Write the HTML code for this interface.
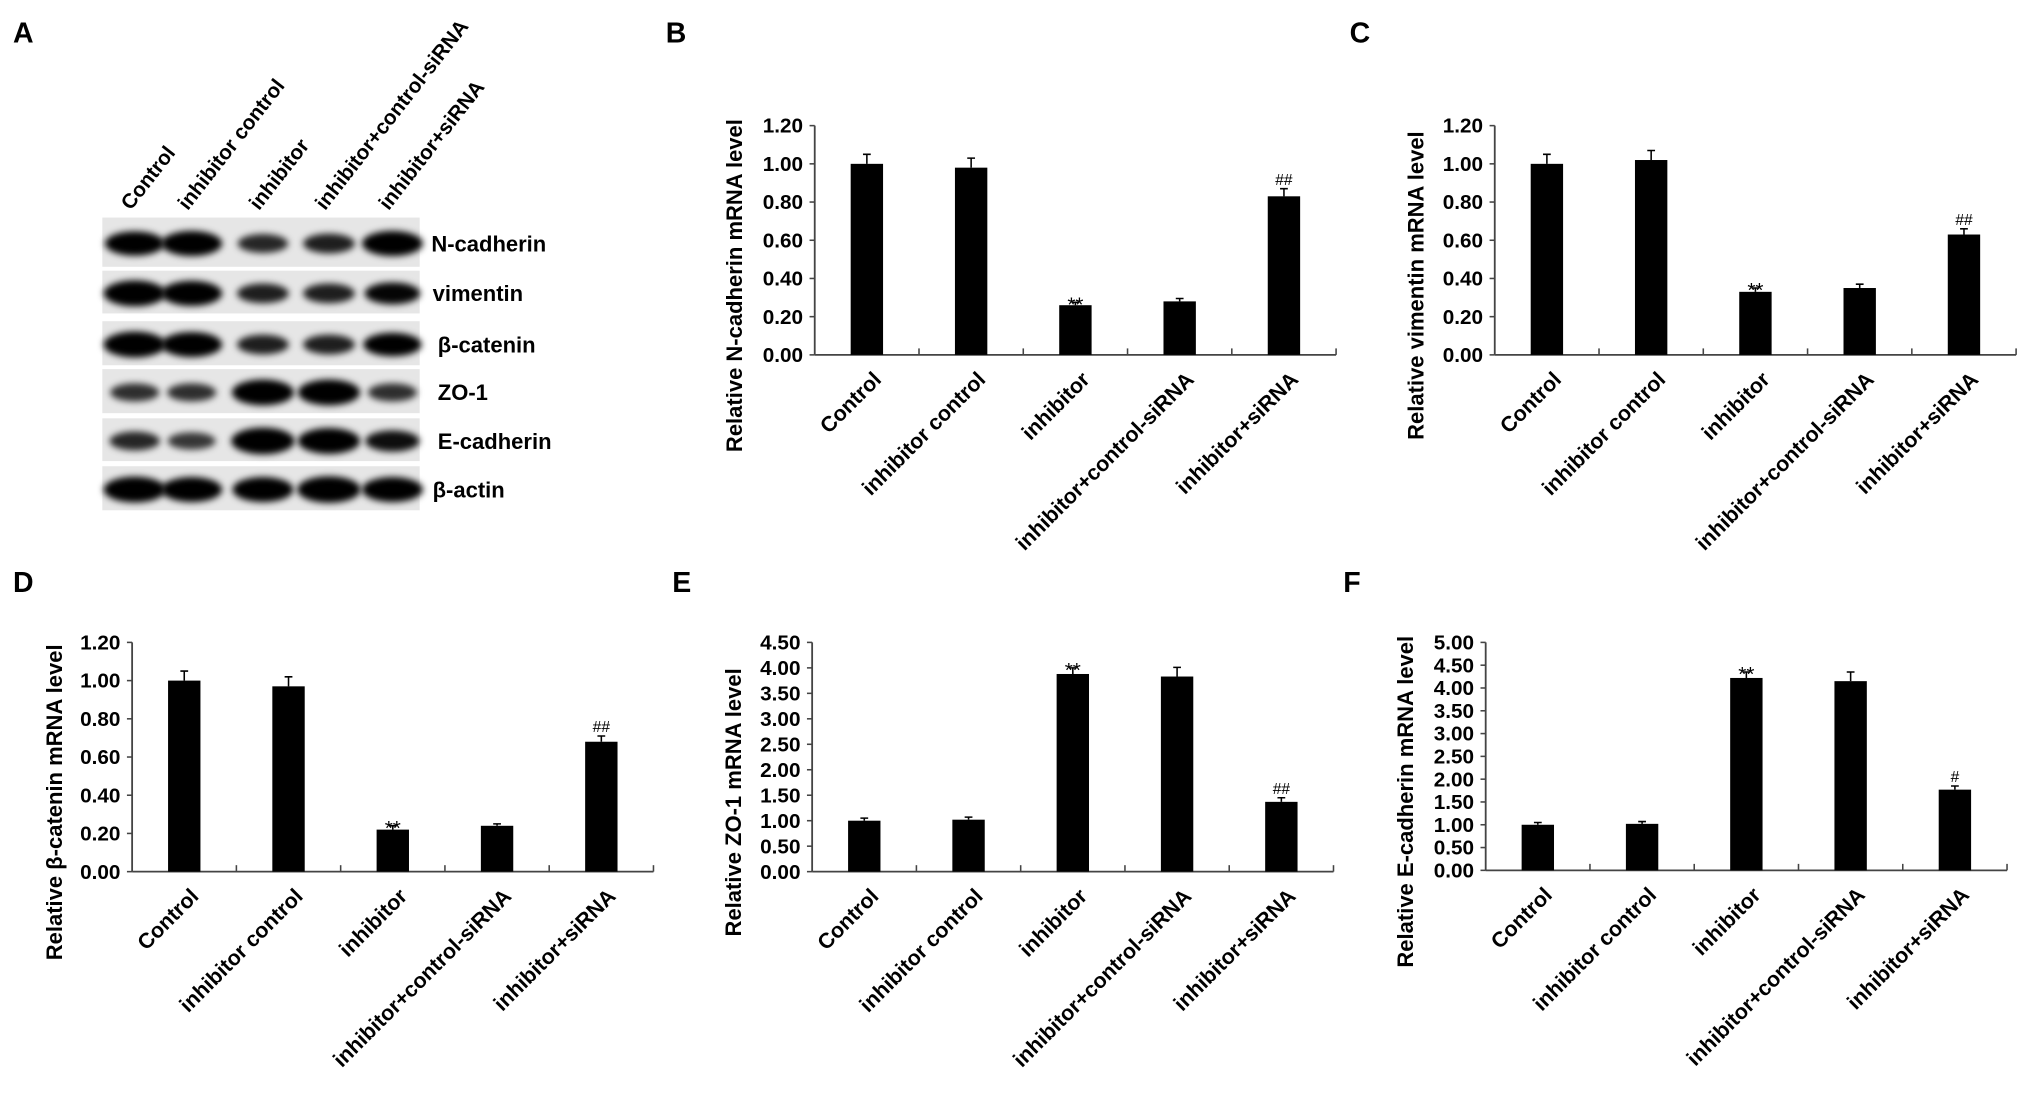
<!DOCTYPE html>
<html><head><meta charset="utf-8"><style>
html,body{margin:0;padding:0;background:#fff;}
svg{display:block;font-family:"Liberation Sans",Arial,sans-serif;font-weight:bold;}
</style></head>
<body>
<svg id="fig" width="2031" height="1097" viewBox="0 0 1568 847" preserveAspectRatio="none">
<defs><filter id="blur" x="-50%" y="-50%" width="200%" height="200%"><feGaussianBlur stdDeviation="2.6"/></filter></defs>
<g id="blot"></g>
<g id="charts"></g>
</svg>
<script>
const NS="http://www.w3.org/2000/svg";
const svg=document.getElementById('fig');
function mk(tag,attrs,parent,text){const e=document.createElementNS(NS,tag);for(const k in attrs)e.setAttribute(k,attrs[k]);if(text!==undefined)e.textContent=text;(parent||svg).appendChild(e);return e;}

const categories=["Control","inhibitor control","inhibitor","inhibitor+control-siRNA","inhibitor+siRNA"];
// Panel B
const valuesB=[1.00,0.98,0.26,0.28,0.83];
const errB=[0.05,0.05,0.015,0.015,0.04];
const sigB=["","","**","","##"];
const ticksB=["0.00","0.20","0.40","0.60","0.80","1.00","1.20"];
// Panel C
const valuesC=[1.00,1.02,0.33,0.35,0.63];
const errC=[0.05,0.05,0.02,0.02,0.03];
const sigC=["","","**","","##"];
const ticksC=["0.00","0.20","0.40","0.60","0.80","1.00","1.20"];
// Panel D
const valuesD=[1.00,0.97,0.22,0.24,0.68];
const errD=[0.05,0.05,0.02,0.01,0.03];
const sigD=["","","**","","##"];
const ticksD=["0.00","0.20","0.40","0.60","0.80","1.00","1.20"];
// Panel E
const valuesE=[1.00,1.02,3.88,3.83,1.37];
const errE=[0.05,0.05,0.12,0.18,0.08];
const sigE=["","","**","","##"];
const ticksE=["0.00","0.50","1.00","1.50","2.00","2.50","3.00","3.50","4.00","4.50"];
// Panel F
const valuesF=[1.00,1.02,4.22,4.15,1.77];
const errF=[0.05,0.05,0.13,0.2,0.08];
const sigF=["","","**","","#"];
const ticksF=["0.00","0.50","1.00","1.50","2.00","2.50","3.00","3.50","4.00","4.50","5.00"];
// Western blot intensities
const blotRows=["N-cadherin","vimentin","β-catenin","ZO-1","E-cadherin","β-actin"];
const bandN=[0.9,0.95,0.55,0.6,0.95];
const bandVim=[1.0,0.95,0.6,0.6,0.75];
const bandCat=[1.0,0.95,0.6,0.6,0.85];
const bandZO=[0.5,0.5,1.0,1.0,0.5];
const bandE=[0.55,0.45,1.05,1.0,0.7];
const bandAct=[1.0,0.95,0.95,1.05,0.95];

function panelLabel(t,x,y){const e=mk('text',{x:x,y:y,'font-size':22},svg,t);

}
panelLabel('A',10,33);panelLabel('B',514,33);panelLabel('C',1042,33);
panelLabel('D',10,457);panelLabel('E',519,457);panelLabel('F',1037,457);

function chart(id,ax,top,bottom,ticks,vals,errs,sigs,title,titleX){
  const g=mk('g',{},svg);
  
  
  const maxV=parseFloat(ticks[ticks.length-1]);
  const y=v=>bottom-(v/maxV)*(bottom-top);
  const cw=80.5;
  const x=i=>ax+cw*(i+0.5);
  const ya=mk('line',{x1:ax,y1:top,x2:ax,y2:bottom,stroke:'#444','stroke-width':1.4},g);
  
  const xa=mk('line',{x1:ax,y1:bottom,x2:ax+cw*categories.length,y2:bottom,stroke:'#444','stroke-width':1.4},g);
  
  ticks.forEach(t=>{const v=parseFloat(t);
    mk('line',{x1:ax-4,y1:y(v),x2:ax,y2:y(v),stroke:'#444','stroke-width':1.2},g);
    const tl=mk('text',{x:ax-9,y:y(v)+5.5,'font-size':16,'text-anchor':'end'},g,t);
    
  });
  for(let i=1;i<=categories.length;i++){mk('line',{x1:ax+cw*i,y1:bottom,x2:ax+cw*i,y2:bottom-5,stroke:'#444','stroke-width':1.2},g);}
  const bw=25;
  vals.forEach((v,i)=>{
    const b=mk('rect',{x:x(i)-bw/2,y:y(v),width:bw,height:bottom-y(v),fill:'#000'},g);
    
    const et=y(v+errs[i]);
    const eb=mk('path',{d:`M${x(i)} ${y(v)}V${et}M${x(i)-3} ${et}H${x(i)+3}`,stroke:'#000','stroke-width':1.2,fill:'none'},g);
    
    if(sigs[i]){const s=mk('text',{x:x(i),y:sigs[i]=='**'?et+7:et-3,'font-size':sigs[i]=='**'?16:12,'text-anchor':'middle','font-weight':'normal'},g,sigs[i]);
      }
    const lx=x(i)+12, ly=bottom+20;
    const cl=mk('text',{x:lx,y:ly,'font-size':16.5,'text-anchor':'end',transform:`rotate(-45 ${lx} ${ly})`},g,categories[i]);
    
  });
  const cy=(top+bottom)/2+35;
  const tt=mk('text',{x:titleX,y:cy,'font-size':17,'text-anchor':'middle',transform:`rotate(-90 ${titleX} ${cy})`},g,title);
  
}
chart('b',629,97,274,ticksB,valuesB,errB,sigB,'Relative N-cadherin mRNA level',573);
chart('c',1154,97,274,ticksC,valuesC,errC,sigC,'Relative vimentin mRNA level',1099);
chart('d',102,496,673,ticksD,valuesD,errD,sigD,'Relative β-catenin mRNA level',48);
chart('e',627,496,673,ticksE,valuesE,errE,sigE,'Relative ZO-1 mRNA level',572);
chart('f',1147,496,672,ticksF,valuesF,errF,sigF,'Relative E-cadherin mRNA level',1091);

// Western blot
const blot=document.getElementById('blot');
const lanesX=[104,148,203,254,303];
const rowY=[[168,208],[209,244],[248,284],[285,321],[323,358],[360,396]];
const bands=[bandN,bandVim,bandCat,bandZO,bandE,bandAct];
rowY.forEach((r,ri)=>{
  const bg=mk('rect',{x:79,y:r[0],width:245,height:r[1]-r[0]-2,fill:'#e6e6e6'},blot);
  
  const cy=(r[0]+r[1])/2;
  bands[ri].forEach((v,li)=>{
    const b=mk('ellipse',{cx:lanesX[li],cy:cy,rx:14+10*v,ry:4+6*v,fill:'#000','fill-opacity':Math.min(1,0.45+0.7*v),filter:'url(#blur)'},blot);
    
  });
  const l=mk('text',{x:ri==1||ri==5?334:(ri==0?333:338),y:cy+6,'font-size':17},blot,blotRows[ri]);
  
});
categories.forEach((c,i)=>{
  const lx=lanesX[i]-3, ly=163;
  const t=mk('text',{x:lx,y:ly,'font-size':16,transform:`rotate(-52 ${lx} ${ly})`},blot,c);
  
});
</script>
</body></html>
